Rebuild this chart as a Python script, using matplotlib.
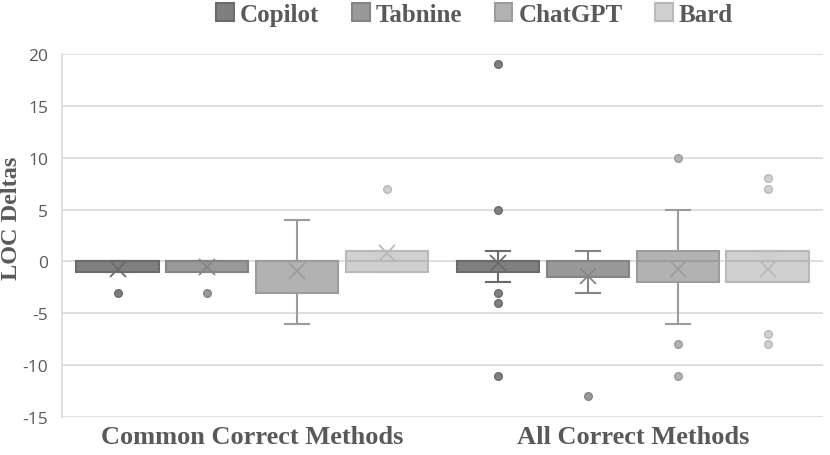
import numpy as np
import matplotlib
matplotlib.use("Agg")
import matplotlib.pyplot as plt
from matplotlib.patches import Patch

plt.rcParams["axes.unicode_minus"] = False

# categories and series
groups = ["Common Correct Methods", "All Correct Methods"]
tools = ["Copilot", "Tabnine", "ChatGPT", "Bard"]

# box statistics per tool, one value per group (common, all)
q1 = {"Copilot": [-1, -1], "Tabnine": [-1, -1.5], "ChatGPT": [-3, -2], "Bard": [-1, -2]}
med = {"Copilot": [0, 0], "Tabnine": [0, 0], "ChatGPT": [0, 0], "Bard": [0, 0]}
q3 = {"Copilot": [0, 0], "Tabnine": [0, 0], "ChatGPT": [0, 1], "Bard": [1, 1]}
whis_lo = {"Copilot": [-1, -2], "Tabnine": [-1, -3], "ChatGPT": [-6, -6], "Bard": [-1, -2]}
whis_hi = {"Copilot": [0, 1], "Tabnine": [0, 1], "ChatGPT": [4, 5], "Bard": [1, 1]}
means = {"Copilot": [-0.74, -0.16], "Tabnine": [-0.58, -1.38], "ChatGPT": [-0.9, -0.74], "Bard": [0.8, -0.74]}
outliers = {
    "Copilot": [[-3], [19, 5, -3, -4, -11]],
    "Tabnine": [[-3], [-13]],
    "ChatGPT": [[], [10, -8, -11]],
    "Bard": [[7], [8, 7, -7, -8]],
}

fills = {"Copilot": "#7f7f7f", "Tabnine": "#999999", "ChatGPT": "#b2b2b2", "Bard": "#d0d0d0"}
edges = {"Copilot": "#6b6b6b", "Tabnine": "#858585", "ChatGPT": "#9c9c9c", "Bard": "#b9b9b9"}

fig = plt.figure(figsize=(8.3, 4.56), dpi=100)
ax = fig.add_axes([0.0747, 0.0833, 0.917, 0.796])

x = np.arange(len(groups))
step = 0.236
width = 0.216

for i, t in enumerate(tools):
    stats = []
    for g in range(len(groups)):
        stats.append({
            "q1": q1[t][g], "med": med[t][g], "q3": q3[t][g],
            "whislo": whis_lo[t][g], "whishi": whis_hi[t][g],
            "mean": means[t][g], "fliers": outliers[t][g],
        })
    pos = x + (i - 1.5) * step
    ax.bxp(stats, positions=pos, widths=width, capwidths=0.063,
           patch_artist=True, showmeans=True, meanline=False,
           boxprops=dict(facecolor=fills[t], edgecolor=edges[t], linewidth=1.5),
           medianprops=dict(color=edges[t], linewidth=1.5),
           whiskerprops=dict(color=edges[t], linewidth=1.5),
           capprops=dict(color=edges[t], linewidth=1.5),
           flierprops=dict(marker="o", markersize=5.5, markerfacecolor=fills[t],
                           markeredgecolor=edges[t], markeredgewidth=1),
           meanprops=dict(marker="x", markersize=11, markeredgecolor=edges[t],
                          markeredgewidth=1.3),
           manage_ticks=False, zorder=3)

ax.set_xlim(-0.5, 1.5)
ax.set_ylim(-15, 20)
ax.set_yticks(np.arange(-15, 21, 5))
ax.grid(axis="y", color="#d9d9d9", linewidth=1.2, zorder=0)
ax.set_axisbelow(True)
for s in ["top", "right", "bottom"]:
    ax.spines[s].set_visible(False)
ax.spines["left"].set_color("#d9d9d9")
ax.spines["left"].set_linewidth(1.2)
ax.tick_params(axis="y", length=0, labelsize=12.5, labelcolor="#595959", pad=10)
ax.tick_params(axis="x", length=0, pad=6)
for lab in ax.get_yticklabels():
    lab.set_family("Open Sans")
ax.set_xticks(x)
ax.set_xticklabels(groups, fontsize=19, fontweight="bold", family="Liberation Serif", color="#595959")
ax.set_ylabel("LOC Deltas", fontsize=17.5, fontweight="bold", family="Liberation Serif",
              color="#595959", va="center")
ax.yaxis.set_label_coords(-0.066, 0.55)

handles = [Patch(facecolor=fills[t], edgecolor=edges[t], linewidth=1.5, label=t) for t in tools]
leg = fig.legend(handles=handles, loc="center", bbox_to_anchor=(0.572, 0.967), ncol=4,
                 frameon=False, handlelength=0.7, handleheight=0.75, handletextpad=0.25,
                 columnspacing=1.3,
                 prop={"family": "Liberation Serif", "weight": "bold", "size": 18})
for txt in leg.get_texts():
    txt.set_color("#595959")

fig.savefig("out.png", dpi=100)
